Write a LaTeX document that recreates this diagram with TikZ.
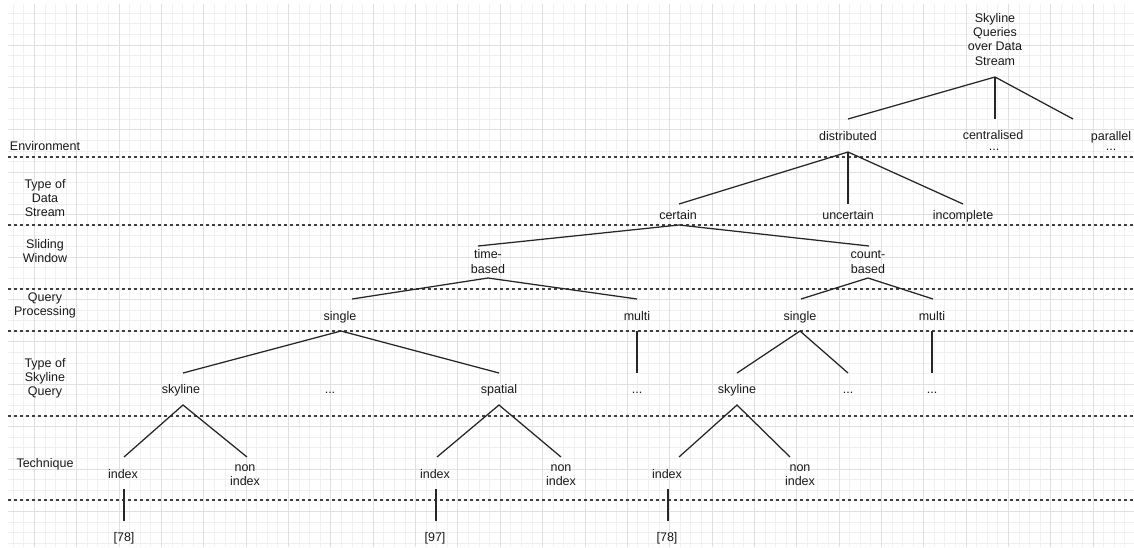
\documentclass[tikz,border=0pt]{standalone}
\usepackage{fontspec}
\setmainfont{Liberation Sans}
\begin{document}
\begin{tikzpicture}[x=1pt,y=-1pt,
  lbl/.style={anchor=base, inner sep=0pt, font=\fontsize{12.5}{14.4}\selectfont, text=black!90, align=center},
  edge/.style={line width=1.25pt, draw=black!85},
  sepline/.style={line width=1.1pt, draw=black!75, dash pattern=on 3pt off 3pt},
  minorgrid/.style={draw=black!6, line width=0.8pt},
  majorgrid/.style={draw=black!12, line width=0.8pt}]
\fill[white] (0,0) rectangle (1134,547);
\useasboundingbox (0,0) rectangle (1134,547);
% grid
\foreach \k in {1,...,106} \draw[minorgrid] ({2.59+10.5875*\k},4) -- ({2.59+10.5875*\k},547);
\foreach \k in {1,...,51} \draw[minorgrid] (8,{2.6+10.6*\k}) -- (1134,{2.6+10.6*\k});
\foreach \k in {0,...,25} \draw[majorgrid] ({34.35+42.35*\k},4) -- ({34.35+42.35*\k},547);
\foreach \k in {1,...,12} \draw[majorgrid] (8,{2.6+42.4*\k}) -- (1134,{2.6+42.4*\k});
% level separators
\foreach \y in {157,225,289,331,416,500} \draw[sepline] (8,\y) -- (1134,\y);
% level labels (base = baseline of last line)
\node[lbl] (lenv) at (45,150) {Environment};
\node[lbl] (lds) at (45,216.8) {Type of\\Data\\Stream};
\node[lbl] (lsw) at (45,262.4) {Sliding\\Window};
\node[lbl] (lqp) at (45,315.4) {Query\\Processing};
\node[lbl] (lsq) at (45,395.8) {Type of\\Skyline\\Query};
\node[lbl] (ltech) at (45,467) {Technique};
% tree nodes
\node[lbl] (root) at (995,65.2) {Skyline\\Queries\\over Data\\Stream};
\node[lbl] (dist) at (848,140) {distributed};
\node[lbl] (cent) at (993,139.5) {centralised};
\node[lbl] (centd) at (994,150) {...};
\node[lbl] (par) at (1111,140) {parallel};
\node[lbl] (pard) at (1111,150) {...};
\node[lbl] (cert) at (678,219) {certain};
\node[lbl] (uncert) at (848,219) {uncertain};
\node[lbl] (incomp) at (963,219) {incomplete};
\node[lbl] (time) at (488,273.3) {time-\\based};
\node[lbl] (count) at (868,273.3) {count-\\based};
\node[lbl] (singleL) at (340,320) {single};
\node[lbl] (multiL) at (637,320) {multi};
\node[lbl] (singleR) at (800,320) {single};
\node[lbl] (multiR) at (932,320) {multi};
\node[lbl] (skyL) at (181,393) {skyline};
\node[lbl] (dotsA) at (330,393) {...};
\node[lbl] (spat) at (499,393) {spatial};
\node[lbl] (dotsB) at (637,393) {...};
\node[lbl] (skyR) at (737,393) {skyline};
\node[lbl] (dotsC) at (848,393) {...};
\node[lbl] (dotsD) at (932,393) {...};
\node[lbl] (idxL) at (123,478) {index};
\node[lbl] (nidxL) at (245,485.4) {non\\index};
\node[lbl] (idxM) at (435,478) {index};
\node[lbl] (nidxM) at (561,485.4) {non\\index};
\node[lbl] (idxR) at (667,478) {index};
\node[lbl] (nidxR) at (800,485.4) {non\\index};
\node[lbl] (refA) at (124,541) {[78]};
\node[lbl] (refB) at (435,541) {[97]};
\node[lbl] (refC) at (667,541) {[78]};
% connector points
\coordinate (rootA) at (995,77);
\coordinate (distT) at (848,119);
\coordinate (centT) at (995,119);
\coordinate (parT) at (1073,119);
\coordinate (distA) at (848,152);
\coordinate (certT) at (679,204);
\coordinate (uncertT) at (848,204);
\coordinate (incompT) at (963,204);
\coordinate (certA) at (679,225);
\coordinate (timeT) at (478,246);
\coordinate (countT) at (869,246);
\coordinate (timeA) at (488,278);
\coordinate (singleLT) at (352,299);
\coordinate (multiLT) at (637,299);
\coordinate (countA) at (868,278);
\coordinate (singleRT) at (801,299);
\coordinate (multiRT) at (933,299);
\coordinate (singleLA) at (341,331);
\coordinate (skyLT) at (183,373);
\coordinate (spatT) at (499,373);
\coordinate (multiLA) at (637,331);
\coordinate (dotsBT) at (637,373);
\coordinate (singleRA) at (800,331);
\coordinate (skyRT) at (737,373);
\coordinate (dotsCT) at (848,373);
\coordinate (multiRA) at (932,331);
\coordinate (dotsDT) at (932,373);
\coordinate (skyLA) at (183,405);
\coordinate (idxLT) at (124,457);
\coordinate (nidxLT) at (247,457);
\coordinate (spatA) at (499,405);
\coordinate (idxMT) at (437,457);
\coordinate (nidxMT) at (561,457);
\coordinate (skyRA) at (737,405);
\coordinate (idxRT) at (679,457);
\coordinate (nidxRT) at (790,457);
\coordinate (idxLB) at (124,489);
\coordinate (refAT) at (124,521);
\coordinate (idxMB) at (436,489);
\coordinate (refBT) at (436,521);
\coordinate (idxRB) at (668,489);
\coordinate (refCT) at (668,521);
% connectors
\draw[edge] (distT) -- (rootA) -- (parT);
\draw[edge] (rootA) -- (centT);
\draw[edge] (certT) -- (distA) -- (incompT);
\draw[edge] (distA) -- (uncertT);
\draw[edge] (timeT) -- (certA) -- (countT);
\draw[edge] (singleLT) -- (timeA) -- (multiLT);
\draw[edge] (singleRT) -- (countA) -- (multiRT);
\draw[edge] (skyLT) -- (singleLA) -- (spatT);
\draw[edge] (multiLA) -- (dotsBT);
\draw[edge] (skyRT) -- (singleRA) -- (dotsCT);
\draw[edge] (multiRA) -- (dotsDT);
\draw[edge] (idxLT) -- (skyLA) -- (nidxLT);
\draw[edge] (idxMT) -- (spatA) -- (nidxMT);
\draw[edge] (idxRT) -- (skyRA) -- (nidxRT);
\draw[edge] (idxLB) -- (refAT);
\draw[edge] (idxMB) -- (refBT);
\draw[edge] (idxRB) -- (refCT);
\end{tikzpicture}
\end{document}
